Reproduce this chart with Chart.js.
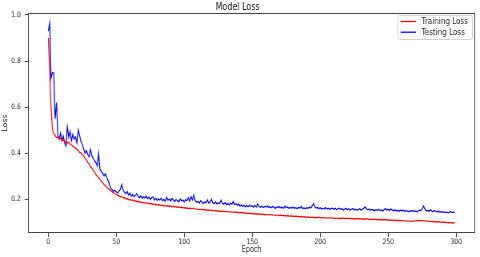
<!DOCTYPE html>
<html>
<head>
<meta charset="utf-8">
<script src="https://cdn.jsdelivr.net/npm/chart.js@4.4.1/dist/chart.umd.min.js"></script>
<style>
  html, body { margin: 0; padding: 0; background: #fff; overflow: hidden; }
  canvas { display: block; }
</style>
</head>
<body>
<canvas id="lossChart" width="600" height="257" style="width:480px;height:257px"></canvas>
<script>
// epochs 0..299
const epochs = Array.from({ length: 300 }, (_, i) => i);

const trainingLoss = [
  0.900, 0.760, 0.600, 0.505, 0.485, 0.478, 0.468, 0.472, 0.461, 0.466,
  0.455, 0.460, 0.448, 0.453, 0.444, 0.449, 0.440, 0.436, 0.432, 0.427,
  0.424, 0.417, 0.413, 0.404, 0.402, 0.395, 0.389, 0.379, 0.373, 0.361,
  0.354, 0.342, 0.336, 0.325, 0.319, 0.308, 0.301, 0.293, 0.288, 0.279,
  0.273, 0.265, 0.260, 0.252, 0.248, 0.242, 0.239, 0.233, 0.230, 0.225,
  0.223, 0.218, 0.217, 0.212, 0.213, 0.207, 0.208, 0.203, 0.204, 0.199,
  0.201, 0.196, 0.198, 0.193, 0.195, 0.190, 0.193, 0.188, 0.190, 0.186,
  0.188, 0.184, 0.186, 0.182, 0.184, 0.180, 0.183, 0.179, 0.181, 0.177,
  0.179, 0.175, 0.178, 0.174, 0.176, 0.172, 0.175, 0.171, 0.174, 0.170,
  0.172, 0.168, 0.171, 0.167, 0.169, 0.166, 0.168, 0.165, 0.167, 0.164,
  0.165, 0.162, 0.164, 0.161, 0.163, 0.160, 0.161, 0.163, 0.159, 0.158,
  0.159, 0.156, 0.158, 0.155, 0.157, 0.155, 0.156, 0.153, 0.155, 0.152,
  0.154, 0.152, 0.151, 0.153, 0.150, 0.151, 0.149, 0.150, 0.148, 0.150,
  0.147, 0.149, 0.146, 0.148, 0.145, 0.147, 0.145, 0.144, 0.146, 0.143,
  0.144, 0.142, 0.144, 0.141, 0.143, 0.140, 0.142, 0.139, 0.141, 0.140,
  0.138, 0.140, 0.137, 0.139, 0.136, 0.138, 0.137, 0.135, 0.137, 0.134,
  0.136, 0.134, 0.135, 0.133, 0.135, 0.132, 0.134, 0.131, 0.133, 0.132,
  0.130, 0.132, 0.131, 0.129, 0.131, 0.128, 0.130, 0.129, 0.127, 0.129,
  0.128, 0.126, 0.128, 0.127, 0.125, 0.127, 0.126, 0.124, 0.126, 0.125,
  0.123, 0.125, 0.124, 0.122, 0.124, 0.123, 0.121, 0.123, 0.122, 0.124,
  0.121, 0.123, 0.120, 0.122, 0.121, 0.119, 0.121, 0.120, 0.122, 0.119,
  0.120, 0.118, 0.120, 0.119, 0.117, 0.119, 0.118, 0.120, 0.117, 0.119,
  0.117, 0.119, 0.116, 0.118, 0.117, 0.115, 0.117, 0.116, 0.118, 0.115,
  0.117, 0.115, 0.116, 0.114, 0.117, 0.115, 0.113, 0.115, 0.114, 0.116,
  0.113, 0.115, 0.112, 0.114, 0.113, 0.111, 0.113, 0.112, 0.114, 0.111,
  0.112, 0.110, 0.112, 0.111, 0.109, 0.111, 0.110, 0.108, 0.110, 0.109,
  0.107, 0.109, 0.108, 0.106, 0.108, 0.107, 0.105, 0.107, 0.106, 0.108,
  0.107, 0.109, 0.110, 0.108, 0.110, 0.109, 0.107, 0.108, 0.106, 0.107,
  0.105, 0.106, 0.104, 0.105, 0.103, 0.104, 0.102, 0.104, 0.103, 0.101,
  0.103, 0.101, 0.102, 0.100, 0.099, 0.101, 0.100, 0.098, 0.100, 0.099
];

const testingLoss = [
  0.930, 0.965, 0.725, 0.750, 0.748, 0.550, 0.620, 0.480, 0.462, 0.488,
  0.455, 0.475, 0.445, 0.432, 0.515, 0.470, 0.495, 0.455, 0.482, 0.462,
  0.472, 0.445, 0.502, 0.478, 0.452, 0.438, 0.420, 0.400, 0.412, 0.395,
  0.385, 0.418, 0.390, 0.378, 0.368, 0.360, 0.345, 0.400, 0.330, 0.322,
  0.314, 0.302, 0.312, 0.295, 0.282, 0.265, 0.248, 0.242, 0.236, 0.240,
  0.232, 0.228, 0.236, 0.245, 0.265, 0.240, 0.232, 0.225, 0.235, 0.220,
  0.228, 0.215, 0.222, 0.212, 0.218, 0.225, 0.214, 0.208, 0.216, 0.205,
  0.212, 0.207, 0.215, 0.204, 0.210, 0.200, 0.208, 0.212, 0.198, 0.205,
  0.196, 0.203, 0.198, 0.206, 0.195, 0.200, 0.193, 0.210, 0.197, 0.202,
  0.194, 0.205, 0.198, 0.192, 0.200, 0.195, 0.190, 0.203, 0.194, 0.198,
  0.190, 0.200, 0.195, 0.208, 0.193, 0.212, 0.198, 0.220, 0.195, 0.188,
  0.192, 0.185, 0.195, 0.188, 0.183, 0.190, 0.185, 0.198, 0.184, 0.189,
  0.200, 0.185, 0.182, 0.190, 0.180, 0.186, 0.183, 0.198, 0.184, 0.180,
  0.187, 0.178, 0.183, 0.176, 0.185, 0.180, 0.192, 0.178, 0.182, 0.175,
  0.180, 0.172, 0.177, 0.170, 0.175, 0.168, 0.173, 0.169, 0.176, 0.170,
  0.172, 0.167, 0.175, 0.168, 0.182, 0.170, 0.166, 0.172, 0.165, 0.170,
  0.167, 0.173, 0.165, 0.169, 0.164, 0.171, 0.166, 0.162, 0.168, 0.165,
  0.170, 0.163, 0.167, 0.162, 0.172, 0.164, 0.168, 0.161, 0.166, 0.163,
  0.168, 0.162, 0.165, 0.160, 0.166, 0.163, 0.170, 0.161, 0.164, 0.160,
  0.165, 0.162, 0.167, 0.163, 0.172, 0.182, 0.170, 0.163, 0.166, 0.160,
  0.164, 0.158, 0.163, 0.160, 0.165, 0.159, 0.162, 0.157, 0.161, 0.163,
  0.158, 0.162, 0.156, 0.160, 0.163, 0.157, 0.161, 0.155, 0.159, 0.162,
  0.156, 0.160, 0.154, 0.158, 0.161, 0.155, 0.158, 0.153, 0.157, 0.160,
  0.154, 0.158, 0.162, 0.168, 0.160, 0.156, 0.159, 0.153, 0.157, 0.155,
  0.151, 0.156, 0.153, 0.158, 0.152, 0.155, 0.150, 0.156, 0.162, 0.154,
  0.158, 0.152, 0.160, 0.154, 0.151, 0.156, 0.150, 0.154, 0.149, 0.155,
  0.151, 0.154, 0.148, 0.153, 0.150, 0.147, 0.152, 0.149, 0.153, 0.148,
  0.151, 0.147, 0.150, 0.154, 0.152, 0.160, 0.172, 0.158, 0.150, 0.153,
  0.148, 0.156, 0.150, 0.147, 0.153, 0.149, 0.146, 0.150, 0.145, 0.148,
  0.144, 0.147, 0.143, 0.146, 0.142, 0.145, 0.148, 0.143, 0.146, 0.144
];

const xTickStep = 50;
const yTickStep = 0.2;
const seriesNames = ['Training Loss', 'Testing Loss'];
const seriesColors = ['#ff0000', '#0000ff'];

const FONT = 'DejaVu Sans';
const INK = '#222';

// box around the plot like matplotlib spines
const framePlugin = {
  id: 'frame',
  afterDatasetsDraw(chart) {
    const { ctx, chartArea: a } = chart;
    ctx.save();
    ctx.strokeStyle = '#444';
    ctx.lineWidth = 1;
    ctx.strokeRect(a.left + 0.5, a.top + 0.5, a.right - a.left - 1, a.bottom - a.top - 1);
    ctx.restore();
  }
};

// legend drawn inside the plot, top right
const boxLegend = {
  id: 'boxLegend',
  afterDraw(chart) {
    const { ctx, chartArea: a } = chart;
    ctx.save();
    ctx.font = '9px ' + FONT;
    const textW = Math.max(...chart.data.datasets.map(d => ctx.measureText(d.label).width));
    const w = 4 + 19 + 7 + textW + 5;
    const h = 24;
    const x = a.right - 4 - w;
    const y = a.top + 2;
    ctx.fillStyle = 'rgba(255,255,255,0.8)';
    ctx.strokeStyle = '#d0d0d0';
    ctx.lineWidth = 1;
    ctx.beginPath();
    ctx.roundRect(x + 0.5, y + 0.5, w, h, 2);
    ctx.fill();
    ctx.stroke();
    chart.data.datasets.forEach((d, i) => {
      const cy = y + 6.5 + i * 10.7;
      ctx.strokeStyle = d.borderColor;
      ctx.lineWidth = 1.3;
      ctx.beginPath();
      ctx.moveTo(x + 4, cy);
      ctx.lineTo(x + 23, cy);
      ctx.stroke();
      ctx.fillStyle = INK;
      ctx.textBaseline = 'middle';
      ctx.fillText(d.label, x + 30, cy + 0.5);
    });
    ctx.restore();
  }
};

new Chart(document.getElementById('lossChart'), {
  type: 'line',
  data: {
    datasets: [trainingLoss, testingLoss].map((vals, i) => ({
      label: seriesNames[i],
      data: epochs.map((e, j) => ({ x: e, y: vals[j] })),
      borderColor: seriesColors[i],
      borderWidth: 1.2,
      pointRadius: 0,
      tension: 0,
      fill: false
    }))
  },
  options: {
    responsive: false,
    animation: false,
    layout: { padding: { left: 0, right: 6, top: 0, bottom: 0 } },
    plugins: {
      legend: { display: false },
      tooltip: { enabled: false },
      title: {
        display: true,
        text: 'Model Loss',
        color: '#111',
        font: { family: FONT, size: 10, weight: 'normal' },
        padding: { top: 1, bottom: 0 }
      }
    },
    scales: {
      x: {
        type: 'linear',
        min: -14.95,
        max: 313.95,
        afterFit(s) { s.height = 24; },
        border: { display: false },
        grid: { drawOnChartArea: false, drawTicks: true, tickLength: 4, color: '#444' },
        ticks: {
          stepSize: xTickStep,
          includeBounds: false,
          maxRotation: 0,
          padding: 1,
          color: INK,
          font: { family: FONT, size: 7.5 }
        },
        title: {
          display: true,
          text: 'Epoch',
          color: INK,
          font: { family: FONT, size: 8 },
          padding: { top: 0, bottom: 2 }
        }
      },
      y: {
        min: 0.055,
        max: 1.008,
        afterFit(s) { s.width = 35; },
        border: { display: false },
        grid: { drawOnChartArea: false, drawTicks: true, tickLength: 4, color: '#444' },
        ticks: {
          stepSize: yTickStep,
          includeBounds: false,
          padding: 5,
          color: INK,
          font: { family: FONT, size: 7.5 },
          callback: v => v.toFixed(1)
        },
        title: {
          display: true,
          text: 'Loss',
          color: INK,
          font: { family: FONT, size: 8 },
          padding: { top: 2, bottom: 0 }
        }
      }
    }
  },
  plugins: [framePlugin, boxLegend]
});
</script>
</body>
</html>
